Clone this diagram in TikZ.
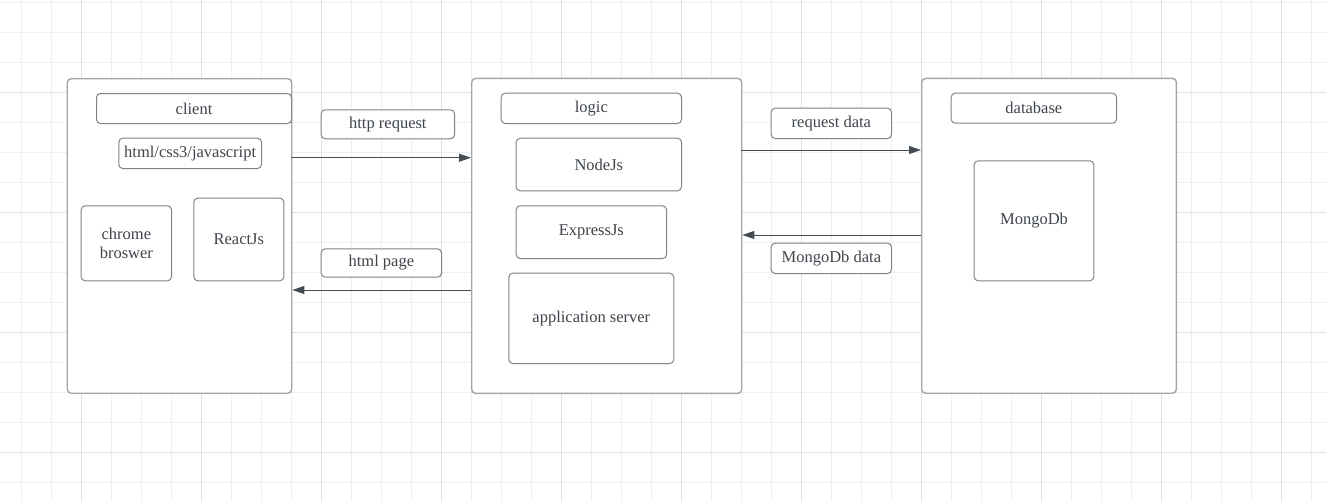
\documentclass[tikz,border=0pt]{standalone}
\usepackage{fontspec}
\setmainfont{Liberation Serif}
\usetikzlibrary{arrows.meta,calc}
\definecolor{gridminor}{HTML}{EFEFEF}
\definecolor{gridmajor}{HTML}{E0E0E0}
\definecolor{outerc}{HTML}{A2A5AA}
\definecolor{innerc}{HTML}{7E828A}
\definecolor{txt}{HTML}{3F454C}
\definecolor{arrc}{HTML}{454B52}
\tikzset{
  outerbox/.style={draw=outerc, line width=1.4pt, rounded corners=4pt, anchor=north west, inner sep=0pt, fill=white},
  inbox/.style={draw=innerc, line width=1pt, rounded corners=4pt, anchor=north west, inner sep=0pt, fill=white, text=txt, font=\fontsize{16.5}{19.5}\selectfont, align=center},
  arr/.style={draw=arrc, line width=1pt, -{Triangle[length=12pt,width=8pt]}},
  gmin/.style={draw=gridminor, line width=1pt},
  gmaj/.style={draw=gridmajor, line width=1pt},
}
\begin{document}
\begin{tikzpicture}[x=1pt,y=-1pt]
\useasboundingbox[fill=white] (0,0) rectangle (1326,501);
% grid
\foreach \gx in {21.7,51.7,...,1326} \draw[gmin] (\gx,0) -- (\gx,501);
\foreach \gy in {2.3,32.3,...,501} \draw[gmin] (0,\gy) -- (1326,\gy);
\foreach \gx in {81.7,201.7,...,1326} \draw[gmaj] (\gx,0) -- (\gx,501);
\foreach \gy in {92.3,212.3,...,501} \draw[gmaj] (0,\gy) -- (1326,\gy);

% outer containers
\node[outerbox, minimum width=224.5pt, minimum height=314.5pt] (client) at (66.5,78) {};
\node[outerbox, minimum width=270pt, minimum height=315pt] (logic) at (471,77.7) {};
\node[outerbox, minimum width=254.7pt, minimum height=314.8pt] (db) at (921,77.7) {};

% client contents
\node[inbox, minimum width=195pt, minimum height=30pt] (clientlbl) at (96,93) {client};
\node[inbox, minimum width=142.7pt, minimum height=30.3pt] (htmlcss) at (118.3,137.7) {html/css3/javascript};
\node[inbox, minimum width=90.3pt, minimum height=75pt] (chrome) at (80.7,205.3) {chrome\\broswer};
\node[inbox, minimum width=90pt, minimum height=82.6pt] (react) at (193.3,197.7) {ReactJs};

% logic contents
\node[inbox, minimum width=180.3pt, minimum height=30.3pt] (logiclbl) at (500.7,92.7) {logic};
\node[inbox, minimum width=165.3pt, minimum height=52.6pt] (nodejs) at (515.7,137.7) {NodeJs};
\node[inbox, minimum width=150.3pt, minimum height=52.7pt] (express) at (515.7,205.3) {ExpressJs};
\node[inbox, minimum width=165pt, minimum height=90.3pt] (app) at (508.3,272.7) {application server};

% database contents
\node[inbox, minimum width=165.3pt, minimum height=30pt] (dblbl) at (950.7,92.7) {database};
\node[inbox, minimum width=119.6pt, minimum height=120pt] (mongo) at (973.7,160.3) {MongoDb};

% connector labels
\node[inbox, minimum width=133.3pt, minimum height=29pt] (httpreq) at (320.7,109.3) {http request};
\node[inbox, minimum width=120.3pt, minimum height=28.4pt] (htmlpage) at (320.7,248.3) {html page};
\node[inbox, minimum width=120.3pt, minimum height=30.3pt] (reqdata) at (770.7,107.7) {request data};
\node[inbox, minimum width=120.3pt, minimum height=30.3pt] (mdata) at (770.7,242.7) {MongoDb data};

% connectors
\coordinate (p1) at (291,157.7);
\coordinate (p2) at (471,290);
\coordinate (p3) at (741,150);
\coordinate (p4) at (921,235);
\draw[arr] (p1) -- (p1 -| logic.west);
\draw[arr] (p2) -- (p2 -| client.east);
\draw[arr] (p3) -- (p3 -| db.west);
\draw[arr] (p4) -- (p4 -| logic.east);
\end{tikzpicture}
\end{document}
